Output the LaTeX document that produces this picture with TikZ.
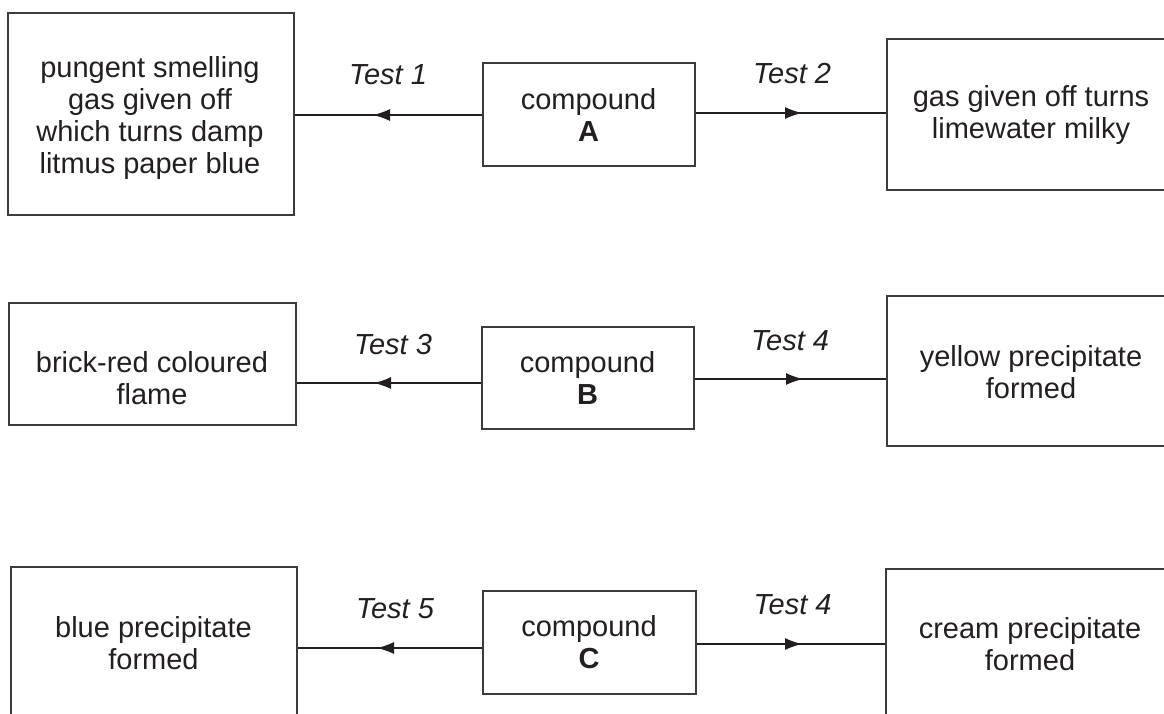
\documentclass[tikz,border=0pt]{standalone}
\usepackage{fontspec}
\setmainfont{Liberation Sans}
\usetikzlibrary{arrows.meta}
\definecolor{ink}{HTML}{231F20}
\definecolor{frame}{HTML}{3C3C3C}
\tikzset{
  box/.style={draw=frame, line width=1.8pt, rectangle, inner sep=0pt},
  txt/.style={align=center, text=ink, font=\fontsize{29}{32}\selectfont, inner sep=0pt},
  testlbl/.style={text=ink, font=\fontsize{29}{32}\selectfont\itshape, inner sep=0pt},
  conn/.style={draw=ink, line width=1.3pt},
  arr/.style={conn, -{Latex[length=17pt,width=12pt]}}
}
\begin{document}
\begin{tikzpicture}[x=1pt, y=-1pt]
\useasboundingbox (0,0) rectangle (1164,713);
\clip (0,0) rectangle (1164,713);
\fill[white] (0,0) rectangle (1164,713);

% ---------- row A ----------
\node[box, minimum width=286pt, minimum height=202pt] (lA) at (151,114) {};
\node[box, minimum width=212pt, minimum height=103pt] (cA) at (589,114.5) {};
\node[box, minimum width=288pt, minimum height=151pt] (rA) at (1031,114.5) {};
\node[txt] (tlA) at (150,117.5) {pungent smelling\\gas given off\\which turns damp\\litmus paper blue};
\node[txt] (tcA) at (588.5,114.5) {compound\\\textbf{A}};
\node[txt] (trA) at (1031,114.5) {gas given off turns\\limewater milky};
\node[testlbl] (t1) at (388,75) {Test 1};
\node[testlbl] (t2) at (792,74) {Test 2};
\coordinate (aA1) at (373,115);
\coordinate (aA2) at (802,113);
\draw[arr] (cA.west |- aA1) -- (aA1);
\draw[conn] ([xshift=4pt]aA1) -- (lA.east |- aA1);
\draw[arr] (cA.east |- aA2) -- (aA2);
\draw[conn] ([xshift=-4pt]aA2) -- (rA.west |- aA2);

% ---------- row B ----------
\node[box, minimum width=287pt, minimum height=122pt] (lB) at (152.5,364) {};
\node[box, minimum width=212pt, minimum height=102pt] (cB) at (588,378) {};
\node[box, minimum width=288pt, minimum height=150pt] (rB) at (1031,371) {};
\node[txt] (tlB) at (152,378) {brick-red coloured\\flame};
\node[txt] (tcB) at (587.5,378.3) {compound\\\textbf{B}};
\node[txt] (trB) at (1031,372) {yellow precipitate\\formed};
\node[testlbl] (t3) at (393,345) {Test 3};
\node[testlbl] (t4) at (790,341) {Test 4};
\coordinate (aB1) at (374,383);
\coordinate (aB2) at (803,379);
\draw[arr] (cB.west |- aB1) -- (aB1);
\draw[conn] ([xshift=4pt]aB1) -- (lB.east |- aB1);
\draw[arr] (cB.east |- aB2) -- (aB2);
\draw[conn] ([xshift=-4pt]aB2) -- (rB.west |- aB2);

% ---------- row C ----------
\node[box, minimum width=286pt, minimum height=163pt] (lC) at (154,648.5) {};
\node[box, minimum width=213pt, minimum height=103pt] (cC) at (589.5,642.5) {};
\node[box, minimum width=289pt, minimum height=161pt] (rC) at (1030.5,649.5) {};
\node[txt] (tlC) at (153.5,643) {blue precipitate\\formed};
\node[txt] (tcC) at (589,642.5) {compound\\\textbf{C}};
\node[txt] (trC) at (1030,644.4) {cream precipitate\\formed};
\node[testlbl] (t5) at (395,609) {Test 5};
\node[testlbl] (t6) at (792.5,605) {Test 4};
\coordinate (aC1) at (377,648);
\coordinate (aC2) at (802,644);
\draw[arr] (cC.west |- aC1) -- (aC1);
\draw[conn] ([xshift=4pt]aC1) -- (lC.east |- aC1);
\draw[arr] (cC.east |- aC2) -- (aC2);
\draw[conn] ([xshift=-4pt]aC2) -- (rC.west |- aC2);
\end{tikzpicture}
\end{document}
